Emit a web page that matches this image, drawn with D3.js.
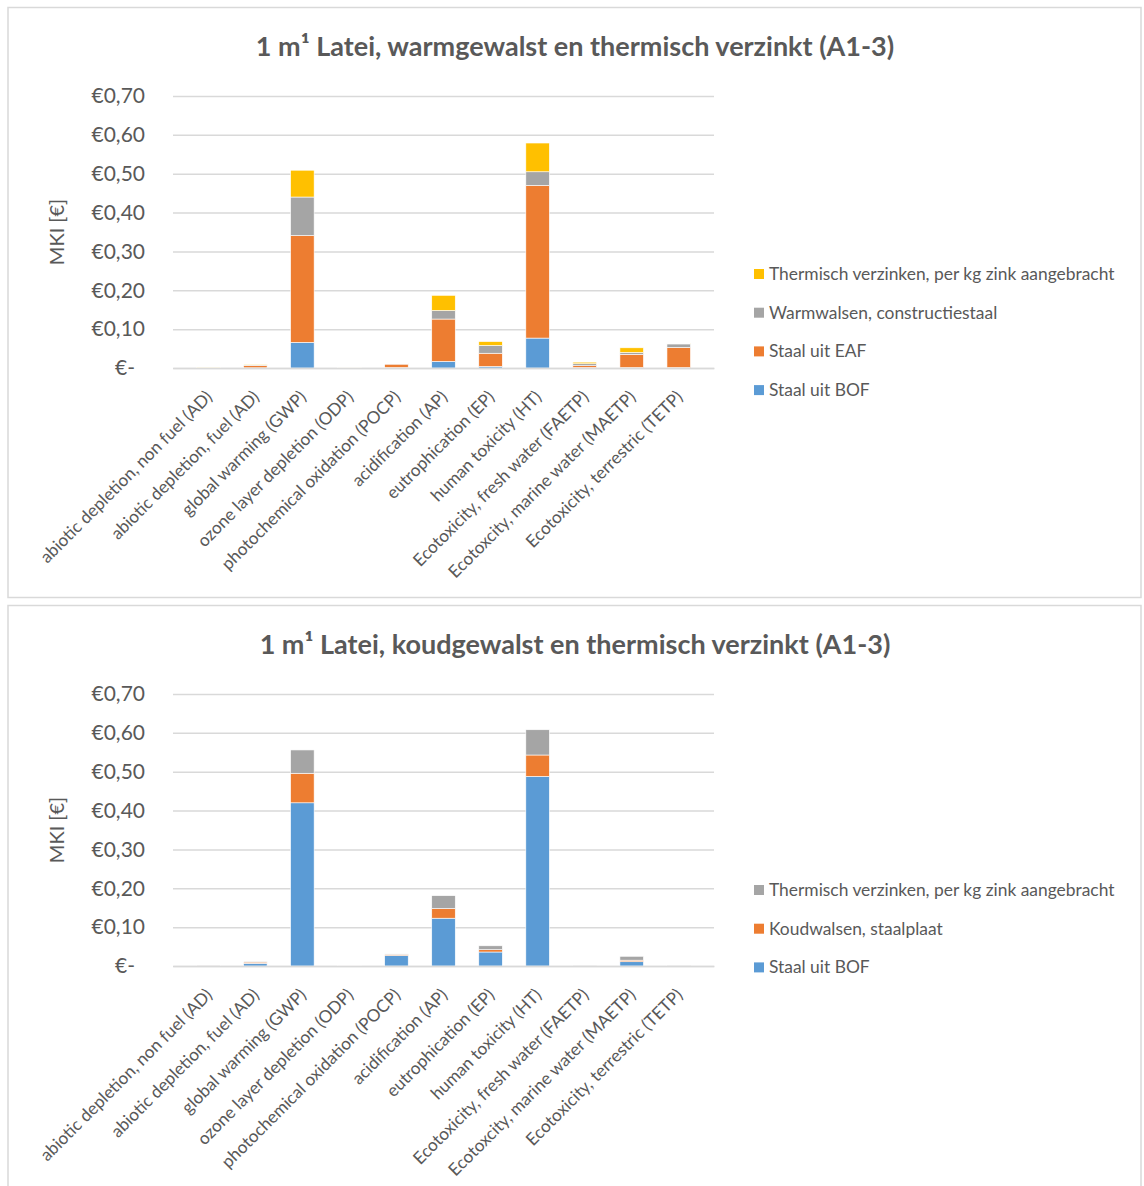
<!DOCTYPE html>
<html lang="nl">
  <head>
    <meta charset="UTF-8" />
    <title>MKI Latei</title>
    <script src="https://d3js.org/d3.v7.min.js"></script>
    <style>
      body {
        margin: 0;
        background: #ffffff;
        font-family: "Lato", "Open Sans", sans-serif;
      }
      svg text {
        font-family: "Lato", "Open Sans", sans-serif;
      }
      .tick text {
        fill: #595959;
      }
    </style>
  </head>
  <body>
    <svg id="chart" width="1144" height="1186"></svg>
    <script>
      // categorieën (milieu-impactcategorieën)
      const categories = [
        "abiotic depletion, non fuel (AD)",
        "abiotic depletion, fuel (AD)",
        "global warming (GWP)",
        "ozone layer depletion (ODP)",
        "photochemical oxidation (POCP)",
        "acidification (AP)",
        "eutrophication (EP)",
        "human toxicity (HT)",
        "Ecotoxicity, fresh water (FAETP)",
        "Ecotoxcity, marine water (MAETP)",
        "Ecotoxicity, terrestric (TETP)",
      ];

      // warmgewalst (geschat uit de grafiek)
      const warmBOF = [0.0003, 0.0005, 0.066, 0.0002, 0.001, 0.017, 0.004, 0.077, 0.001, 0.001, 0.001];
      const warmEAF = [0.001, 0.006, 0.275, 0.0003, 0.009, 0.109, 0.034, 0.393, 0.005, 0.034, 0.052];
      const warmRolling = [0.0003, 0.0015, 0.099, 0.0001, 0.001, 0.022, 0.02, 0.035, 0.005, 0.005, 0.009];
      const warmZinc = [0.0005, 0.002, 0.069, 0.0001, 0.001, 0.039, 0.01, 0.074, 0.004, 0.012, 0.001];

      // koudgewalst
      const coldBOF = [0.001, 0.007, 0.42, 0.0001, 0.027, 0.123, 0.036, 0.488, 0.0005, 0.011, 0.0005];
      const coldRolling = [0.0003, 0.003, 0.076, 0.0001, 0.003, 0.025, 0.006, 0.055, 0.0005, 0.004, 0.0005];
      const coldZinc = [0.001, 0.002, 0.06, 0.0001, 0.001, 0.033, 0.01, 0.065, 0.001, 0.01, 0.001];

      const yTicks = [0, 0.1, 0.2, 0.3, 0.4, 0.5, 0.6, 0.7];

      const colors = {
        bof: "#5b9bd5",
        eaf: "#ed7d31",
        rolling: "#a5a5a5",
        zinc: "#ffc000",
      };

      const charts = [
        {
          title: "1 m\u00b9 Latei, warmgewalst en thermisch verzinkt (A1-3)",
          top: 7,
          height: 590,
          series: [
            { key: "bof", label: "Staal uit BOF", values: warmBOF, color: colors.bof },
            { key: "eaf", label: "Staal uit EAF", values: warmEAF, color: colors.eaf },
            { key: "rolling", label: "Warmwalsen, constructiestaal", values: warmRolling, color: colors.rolling },
            { key: "zinc", label: "Thermisch verzinken, per kg zink aangebracht", values: warmZinc, color: colors.zinc },
          ],
        },
        {
          title: "1 m\u00b9 Latei, koudgewalst en thermisch verzinkt (A1-3)",
          top: 605,
          height: 600,
          series: [
            { key: "bof", label: "Staal uit BOF", values: coldBOF, color: colors.bof },
            { key: "rolling", label: "Koudwalsen, staalplaat", values: coldRolling, color: colors.eaf },
            { key: "zinc", label: "Thermisch verzinken, per kg zink aangebracht", values: coldZinc, color: colors.rolling },
          ],
        },
      ];

      const svg = d3.select("#chart");
      const plot = { left: 173, right: 714, top: 89, bottom: 361 };

      const x = d3.scaleBand().domain(categories).range([plot.left, plot.right]).padding(0.5);
      const y = d3.scaleLinear().domain([0, 0.7]).range([plot.bottom, plot.top]);

      const euro = (d) => (d === 0 ? "\u20ac-" : "\u20ac" + d3.format(".2f")(d).replace(".", ","));

      charts.forEach((c) => {
        const panel = svg.append("g").attr("transform", `translate(0,${c.top})`);

        panel
          .append("rect")
          .attr("x", 8)
          .attr("y", 0.5)
          .attr("width", 1133)
          .attr("height", c.height)
          .attr("fill", "#fff")
          .attr("stroke", "#d9d9d9")
          .attr("stroke-width", 1.5);

        panel
          .append("text")
          .attr("x", 575)
          .attr("y", 49)
          .attr("text-anchor", "middle")
          .style("font-size", "27px")
          .style("font-weight", "bold")
          .style("fill", "#595959")
          .text(c.title);

        // rasterlijnen + y-as
        const yAxis = panel
          .append("g")
          .attr("transform", `translate(${plot.left},0)`)
          .call(
            d3
              .axisLeft(y)
              .tickValues(yTicks)
              .tickSize(-(plot.right - plot.left))
              .tickPadding(28)
              .tickFormat(euro)
          );
        yAxis.select(".domain").remove();
        yAxis.selectAll(".tick line").attr("stroke", "#d9d9d9").attr("stroke-width", 1.5);
        yAxis
          .selectAll(".tick text")
          .style("font-size", "21px")
          .attr("dx", (d) => (d === 0 ? "-10" : "0"));

        panel
          .append("text")
          .attr("transform", `translate(64,${(plot.top + plot.bottom) / 2}) rotate(-90)`)
          .attr("text-anchor", "middle")
          .style("font-size", "20px")
          .style("fill", "#595959")
          .text("MKI [\u20ac]");

        // gestapelde staven
        const rows = categories.map((cat, i) => {
          const row = { cat };
          c.series.forEach((s) => (row[s.key] = s.values[i]));
          return row;
        });
        const stacked = d3.stack().keys(c.series.map((s) => s.key))(rows);

        panel
          .selectAll(".serie")
          .data(stacked)
          .join("g")
          .attr("fill", (d, i) => c.series[i].color)
          .selectAll("rect")
          .data((d) => d)
          .join("rect")
          .attr("x", (d) => x(d.data.cat))
          .attr("y", (d) => y(d[1]))
          .attr("width", x.bandwidth())
          .attr("height", (d) => y(d[0]) - y(d[1]))
          .attr("stroke", "#fff")
          .attr("stroke-width", 0.6);

        // x-as
        const xAxis = panel
          .append("g")
          .attr("transform", `translate(0,${plot.bottom})`)
          .call(d3.axisBottom(x).tickSize(0).tickPadding(0));
        xAxis.select(".domain").attr("stroke", "#d9d9d9").attr("stroke-width", 1.5);
        xAxis
          .selectAll(".tick text")
          .style("font-size", "17.2px")
          .style("text-anchor", "end")
          .attr("dy", 0)
          .attr("transform", "translate(5,30) rotate(-45)");

        // legenda (omgekeerde volgorde)
        const legendTop = c.series.length === 4 ? 267 : 285;
        const legend = panel
          .selectAll(".legend")
          .data(c.series.slice().reverse())
          .join("g")
          .attr("transform", (d, i) => `translate(754,${legendTop + i * 38.7})`);
        legend.append("rect").attr("width", 10).attr("height", 10).attr("y", -5).attr("fill", (d) => d.color);
        legend
          .append("text")
          .attr("x", 15)
          .attr("y", 6)
          .style("font-size", "17.4px")
          .style("fill", "#595959")
          .text((d) => d.label);
      });
    </script>
  </body>
</html>
